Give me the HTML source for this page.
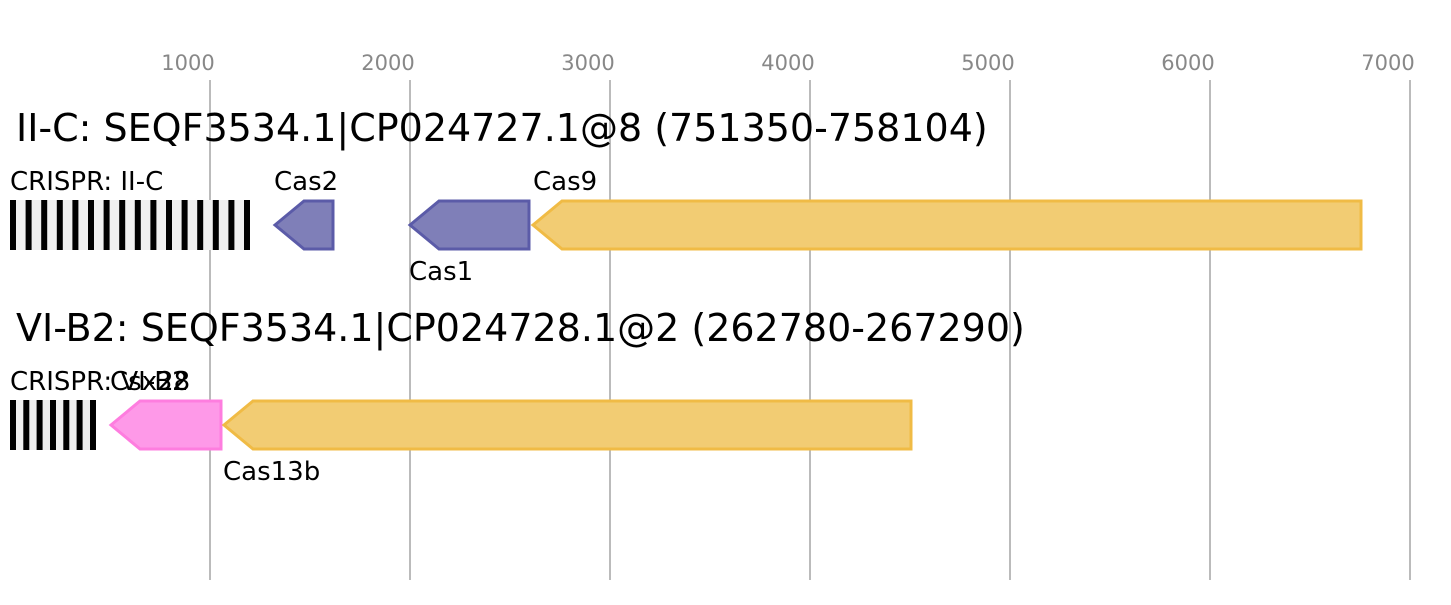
<!DOCTYPE html>
<html><head><style>body{margin:0;background:#fff}</style></head><body>
<svg width="1451" height="600" xmlns="http://www.w3.org/2000/svg" style="font-family:'DejaVu Sans','Liberation Sans',sans-serif">
<rect width="1451" height="600" fill="#fff"/>
<g stroke="#bbb" stroke-width="2">
<line x1="210" y1="80" x2="210" y2="580"/><line x1="410" y1="80" x2="410" y2="580"/><line x1="610" y1="80" x2="610" y2="580"/><line x1="810" y1="80" x2="810" y2="580"/><line x1="1010" y1="80" x2="1010" y2="580"/><line x1="1210" y1="80" x2="1210" y2="580"/><line x1="1410" y1="80" x2="1410" y2="580"/>
</g>
<g fill="#888" style="font-size:21px" text-anchor="middle">
<text x="188" y="70">1000</text><text x="388" y="70">2000</text><text x="588" y="70">3000</text><text x="788" y="70">4000</text><text x="988" y="70">5000</text><text x="1188" y="70">6000</text><text x="1388" y="70">7000</text>
</g>
<text x="16" y="141" style="font-size:38px">II-C: SEQF3534.1|CP024727.1@8 (751350-758104)</text>
<text x="16" y="341" style="font-size:38px">VI-B2: SEQF3534.1|CP024728.1@2 (262780-267290)</text>
<rect x="10" y="200" width="240" height="50" fill="#f0f0f0"/>
<g fill="#000">
<rect x="10" y="200" width="6" height="50"/><rect x="25.6" y="200" width="6" height="50"/><rect x="41.2" y="200" width="6" height="50"/><rect x="56.8" y="200" width="6" height="50"/><rect x="72.4" y="200" width="6" height="50"/><rect x="88" y="200" width="6" height="50"/><rect x="103.6" y="200" width="6" height="50"/><rect x="119.2" y="200" width="6" height="50"/><rect x="134.8" y="200" width="6" height="50"/><rect x="150.4" y="200" width="6" height="50"/><rect x="166" y="200" width="6" height="50"/><rect x="181.6" y="200" width="6" height="50"/><rect x="197.2" y="200" width="6" height="50"/><rect x="212.8" y="200" width="6" height="50"/><rect x="228.4" y="200" width="6" height="50"/><rect x="244" y="200" width="6" height="50"/>
</g>
<rect x="10" y="400" width="86" height="50" fill="#f0f0f0"/>
<g fill="#000">
<rect x="10" y="400" width="6" height="50"/><rect x="23.3" y="400" width="6" height="50"/><rect x="36.6" y="400" width="6" height="50"/><rect x="50" y="400" width="6" height="50"/><rect x="63.3" y="400" width="6" height="50"/><rect x="76.6" y="400" width="6" height="50"/><rect x="90" y="400" width="6" height="50"/>
</g>
<g stroke-width="3">
<polygon points="275,225 304,201 333,201 333,249 304,249" fill="#7f7fb8" stroke="#5b5ba8"/>
<polygon points="410,225 439,201 529,201 529,249 439,249" fill="#7f7fb8" stroke="#5b5ba8"/>
<polygon points="533,225 562,201 1361,201 1361,249 562,249" fill="#f2cc73" stroke="#f0bb45"/>
<polygon points="111,425 140,401 221,401 221,449 140,449" fill="#fe99e8" stroke="#fe7ddf"/>
<polygon points="224,425 253,401 911,401 911,449 253,449" fill="#f2cc73" stroke="#f0bb45"/>
</g>
<g style="font-size:26px" fill="#000">
<text x="10" y="190">CRISPR: II-C</text>
<text x="274" y="190">Cas2</text>
<text x="533" y="190">Cas9</text>
<text x="409" y="280">Cas1</text>
<text x="10" y="390">CRISPR: VI-B2</text>
<text x="110" y="390">Csx28</text>
<text x="223" y="480">Cas13b</text>
</g>
</svg>
</body></html>
